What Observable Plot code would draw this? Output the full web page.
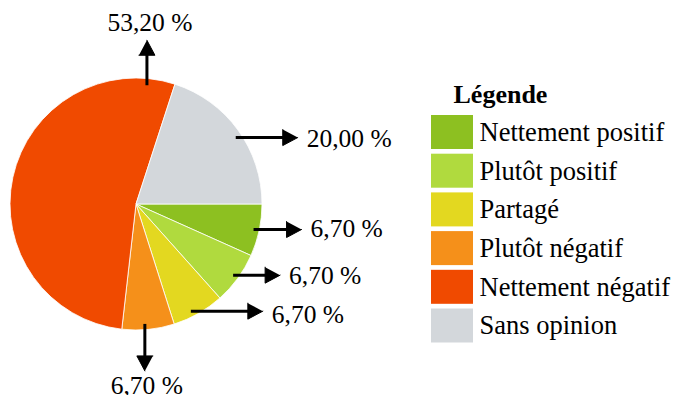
<!DOCTYPE html>
<html><head><meta charset="utf-8">
<script src="https://cdn.jsdelivr.net/npm/d3@7"></script>
<script src="https://cdn.jsdelivr.net/npm/@observablehq/plot@0.6"></script>
<style>body{margin:0;background:#fff;} #chart svg{display:block}</style>
</head><body><div id="chart"></div>
<script>
// ---- data ----
const categories = ["Nettement positif", "Plutôt positif", "Partagé", "Plutôt négatif", "Nettement négatif", "Sans opinion"];
const values = [6.7, 6.7, 6.7, 6.7, 53.2, 20.0];
const valueLabels = ["6,70 %", "6,70 %", "6,70 %", "6,70 %", "53,20 %", "20,00 %"];
const colors = ["#8dc021", "#b0da3e", "#e3d820", "#f5901a", "#f04a00", "#d3d7db"];
const legendTitle = "Légende";

// ---- layout ----
const W = 674, H = 395, CX = 136, CY = 204, R = 126;
const FONT = '"Liberation Serif","Times New Roman",Times,serif';
const callout = [
  {dir: "right", len: 48, dy: -1},
  {dir: "right", len: 47, dy: 1},
  {dir: "right", len: 72, dy: 4, angle: 63},
  {dir: "down", len: 47, dx: 2, angle: 86},
  {dir: "up", len: 45, dx: 3, angle: -85},
  {dir: "right", len: 62, dy: 1, angle: -34}
];
const HL = 15, HW = 8, rA = 0.95 * R;

const rows = categories.map((c, i) => ({category: c, value: values[i], label: valueLabels[i]}));
const pie = d3.pie().value(d => d.value).sort(null)
  .startAngle(Math.PI / 2).endAngle(Math.PI / 2 + 2 * Math.PI);
const arcs = pie(rows);

const calls = arcs.map((a, i) => {
  const c = callout[i];
  const th = c.angle != null ? c.angle * Math.PI / 180 : (a.startAngle + a.endAngle) / 2 - Math.PI / 2;
  const x1 = CX + rA * Math.cos(th), y1 = CY + rA * Math.sin(th);
  const [ux, uy] = c.dir === "right" ? [1, 0] : c.dir === "up" ? [0, -1] : [0, 1];
  const x2 = x1 + ux * c.len, y2 = y1 + uy * c.len;
  const bx = x2 - ux * (HL - 1), by = y2 - uy * (HL - 1);
  let tx, ty;
  if (c.dir === "right") { tx = x2 + 9; ty = y2 + (c.dy || 0); }
  else if (c.dir === "up") { tx = x2 + (c.dx || 0); ty = y2 - 17; }
  else { tx = x2 + (c.dx || 0); ty = y2 + 15; }
  return {id: i, dir: c.dir, label: a.data.label, x1, y1, x2, y2, bx, by, ux, uy, tx, ty};
});
const heads = calls.flatMap(d => {
  const cx = d.x2 - d.ux * HL, cy = d.y2 - d.uy * HL;
  const px = -d.uy * HW, py = d.ux * HW;
  return [
    {id: d.id, x: d.x2, y: d.y2},
    {id: d.id, x: cx + px, y: cy + py},
    {id: d.id, x: cx - px, y: cy - py}
  ];
});

const LX = 431, LW = 42, LT = 115, LSTEP = 38.7, LH = 34;
const legendRows = categories.map((c, i) => ({category: c, y1: LT + i * LSTEP, y2: LT + i * LSTEP + LH, ym: LT + i * LSTEP + LH / 2}));

function pieMark(...args) {
  const sc = args.find(a => a && typeof a.color === "function") || args[1];
  const g = d3.create("svg:g");
  const x0 = sc.x(CX), y0 = sc.y(CY), r = sc.x(CX + R) - x0;
  const arc = d3.arc().innerRadius(0).outerRadius(r);
  g.attr("transform", `translate(${x0},${y0})`);
  g.selectAll("path").data(arcs).join("path")
    .attr("d", arc)
    .attr("fill", d => sc.color(d.data.category))
    .attr("stroke", "white").attr("stroke-width", 0.8).attr("stroke-linejoin", "round");
  return g.node();
}

const chart = Plot.plot({
  width: W, height: H, margin: 0,
  x: {domain: [0, W], range: [0, W], axis: null},
  y: {domain: [0, H], range: [0, H], axis: null},
  color: {domain: categories, range: colors},
  style: {fontFamily: FONT, background: "white", color: "black"},
  marks: [
    pieMark,
    Plot.link(calls, {x1: "x1", y1: "y1", x2: "bx", y2: "by", stroke: "black", strokeWidth: 3}),
    Plot.line(heads, {x: "x", y: "y", z: "id", fill: "black", stroke: "black", strokeWidth: 1}),
    Plot.text(calls.filter(d => d.dir === "right"), {x: "tx", y: "ty", text: "label", textAnchor: "start", lineAnchor: "middle", fontSize: 25.5, fontFamily: FONT, fill: "black"}),
    Plot.text(calls.filter(d => d.dir !== "right"), {x: "tx", y: "ty", text: "label", textAnchor: "middle", lineAnchor: "middle", fontSize: 25.5, fontFamily: FONT, fill: "black"}),
    Plot.rect(legendRows, {x1: LX, x2: LX + LW, y1: "y1", y2: "y2", fill: "category"}),
    Plot.text(legendRows, {x: LX + LW + 6, y: "ym", text: "category", textAnchor: "start", lineAnchor: "middle", fontSize: 26.5, fontFamily: FONT, fill: "black"}),
    Plot.text([legendTitle], {x: 453, y: 94, text: d => d, textAnchor: "start", lineAnchor: "middle", fontSize: 26, fontWeight: "bold", fontFamily: FONT, fill: "black"})
  ]
});
document.getElementById("chart").append(chart);
</script>
</body></html>
